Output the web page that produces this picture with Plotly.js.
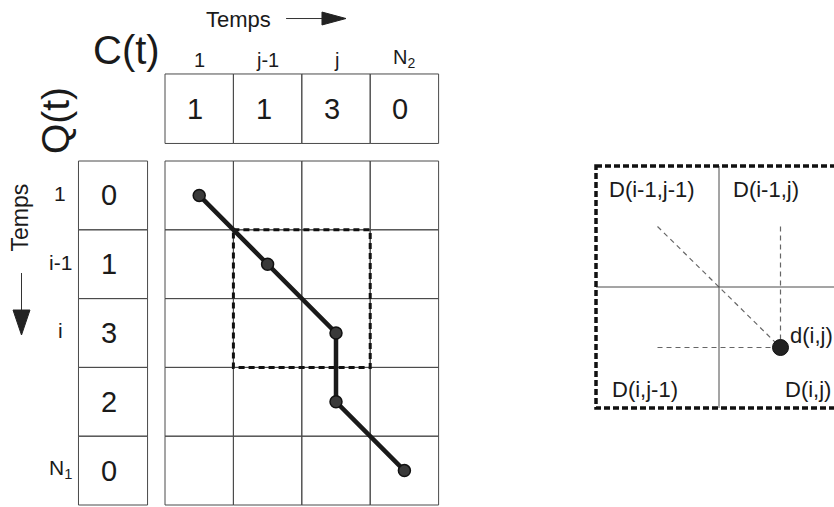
<!DOCTYPE html>
<html><head><meta charset="utf-8">
<script src="https://cdn.plot.ly/plotly-3.0.1.min.js"></script>
<style>html,body{margin:0;padding:0;background:#fff}#chart{width:834px;height:507px}</style>
</head><body><div id="chart"></div>
<script>
// ---- data ----
const colLabels = ['1', 'j-1', 'j', 'N<sub>2</sub>'];
const cValues = [1, 1, 3, 0];
const rowLabels = ['1', 'i-1', 'i', '', 'N<sub>1</sub>'];
const qValues = [0, 1, 3, 2, 0];
const pathCols = [0, 1, 2, 2, 3];
const pathRows = [0, 1, 2, 3, 4];
const windowCols = [1, 3];
const windowRows = [1, 3];
const zoomLabels = ['D(i-1,j-1)', 'D(i-1,j)', 'D(i,j-1)', 'D(i,j)'];
const zoomLabelCols = [1, 2, 1, 2];
const zoomLabelRows = [1, 1, 2, 2];
const neighbourCols = [1, 2, 1];
const neighbourRows = [1, 1, 2];
const targetCol = [2];
const targetRow = [2];
const localCostLabel = 'd(i,j)';
const titleC = 'C(t)';
const titleQ = 'Q(t)';
const timeLabel = 'Temps';

// ---- geometry (layout only) ----
const W = 834, H = 507;
const sxM = 68.4, x0M = 165, syM = 68.8, y0M = 161;   // main grid: px per cell, origin px
const mainDomEnd = 0.69;
const sxZ = 123, syZ = 121, x0Z = 596, y0Z = 166;      // zoom panel: cell(1,1) corner px
const FONT = 'Liberation Sans, Arial, Helvetica, sans-serif';
const INK = '#1a1a1a';
const GRID = '#4a4a4a';

const nCols = cValues.length, nRows = qValues.length;
const sideA = -1.265, sideB = -0.255;

const shapes = [];
const annotations = [];

function ann(o) {
  annotations.push(Object.assign({xref: 'x', yref: 'y', showarrow: false,
    xanchor: 'center', yanchor: 'middle', font: {family: FONT, size: 20, color: INK}}, o));
}

// main grid cells
for (let r = 0; r < nRows; r++) {
  for (let c = 0; c < nCols; c++) {
    shapes.push({type: 'rect', xref: 'x', yref: 'y', layer: 'below',
      x0: c, x1: c + 1, y0: r, y1: r + 1, line: {color: GRID, width: 1}});
  }
}
// C(t) row
cValues.forEach((v, c) => {
  shapes.push({type: 'rect', xref: 'x', yref: 'y', layer: 'below',
    x0: c, x1: c + 1, y0: sideA, y1: sideB, line: {color: GRID, width: 1}});
  ann({x: c + 0.5, y: (sideA + sideB) / 2, text: String(v), xshift: -4,
       font: {family: FONT, size: 29, color: INK}});
  ann({x: c + 0.5, y: sideA - 0.01, yanchor: 'bottom', text: colLabels[c],
       font: {family: FONT, size: 20, color: INK}});
});
// Q(t) column
qValues.forEach((v, r) => {
  shapes.push({type: 'rect', xref: 'x', yref: 'y', layer: 'below',
    x0: sideA, x1: sideB, y0: r, y1: r + 1, line: {color: GRID, width: 1}});
  ann({x: (sideA + sideB) / 2, y: r + 0.5, text: String(v), xshift: -4,
       font: {family: FONT, size: 29, color: INK}});
  if (rowLabels[r]) {
    ann({x: -1.535, y: r + 0.47, text: rowLabels[r], font: {family: FONT, size: 21, color: INK}});
  }
});
// dashed window in main grid
shapes.push({type: 'rect', xref: 'x', yref: 'y', layer: 'below',
  x0: windowCols[0], x1: windowCols[1], y0: windowRows[0], y1: windowRows[1],
  line: {color: '#111', width: 3, dash: '6px,4px'}});

// titles
ann({x: -0.563, y: -1.613, text: titleC, font: {family: FONT, size: 40, color: INK}});
ann({x: -1.608, y: -0.581, text: titleQ, textangle: -90, font: {family: FONT, size: 39, color: INK}});
ann({x: 1.075, y: -2.057, text: timeLabel, font: {family: FONT, size: 22, color: INK}});
ann({x: -2.113, y: 0.814, text: timeLabel, textangle: -90, font: {family: FONT, size: 23, color: INK}});

// time arrows
shapes.push({type: 'line', xref: 'x', yref: 'y', x0: 1.77, x1: 2.31, y0: -2.071, y1: -2.071,
  line: {color: '#333', width: 1}});
shapes.push({type: 'path', xref: 'x', yref: 'y', path: 'M 2.295,-2.165 L 2.646,-2.071 L 2.295,-1.977 Z',
  fillcolor: '#222', line: {color: '#222', width: 1}});
shapes.push({type: 'line', xref: 'x', yref: 'y', x0: -2.098, x1: -2.098, y0: 1.628, y1: 2.18,
  line: {color: '#333', width: 1}});
shapes.push({type: 'path', xref: 'x', yref: 'y', path: 'M -2.222,2.166 L -1.974,2.166 L -2.098,2.529 Z',
  fillcolor: '#222', line: {color: '#222', width: 1}});

// ---- zoom panel ----
shapes.push({type: 'line', xref: 'x2', yref: 'y2', x0: 2, x1: 2, y0: 1, y1: 3,
  line: {color: GRID, width: 1}});
shapes.push({type: 'line', xref: 'x2', yref: 'y2', x0: 1, x1: 3, y0: 2, y1: 2,
  line: {color: GRID, width: 1}});
shapes.push({type: 'rect', xref: 'x2', yref: 'y2', x0: 1, x1: 3, y0: 1, y1: 3,
  line: {color: '#111', width: 3.5, dash: '6px,3px'}});

const zoomOffX = [0.087, 0.095, 0.114, 0.523];
const zoomOffY = [0.198, 0.198, 0.85, 0.85];
zoomLabels.forEach((t, k) => {
  annotations.push({xref: 'x2', yref: 'y2', x: zoomLabelCols[k] + zoomOffX[k], y: zoomLabelRows[k] + zoomOffY[k],
    text: t, showarrow: false, xanchor: 'left', yanchor: 'middle', font: {family: FONT, size: 22, color: INK}});
});
annotations.push({xref: 'x2', yref: 'y2', x: targetCol[0] + 0.563, y: targetRow[0] + 0.397,
  text: localCostLabel, showarrow: false, xanchor: 'left', yanchor: 'middle', font: {family: FONT, size: 22, color: INK}});

// ---- traces ----
const traces = [];
traces.push({type: 'scatter', mode: 'lines+markers', xaxis: 'x', yaxis: 'y',
  x: pathCols.map(c => c + 0.5), y: pathRows.map(r => r + 0.5),
  line: {color: INK, width: 4.5}, marker: {size: 12, color: '#3a3a3a', line: {color: '#111', width: 1.5}},
  hoverinfo: 'skip'});
neighbourCols.forEach((c, k) => {
  traces.push({type: 'scatter', mode: 'lines', xaxis: 'x2', yaxis: 'y2',
    x: [c + 0.5, targetCol[0] + 0.5], y: [neighbourRows[k] + 0.5, targetRow[0] + 0.5],
    line: {color: '#666', width: 1.2, dash: '5px,4px'}, hoverinfo: 'skip'});
});
traces.push({type: 'scatter', mode: 'markers', xaxis: 'x2', yaxis: 'y2',
  x: targetCol.map(c => c + 0.5), y: targetRow.map(r => r + 0.5),
  marker: {size: 16, color: '#222', line: {color: '#111', width: 1}}, hoverinfo: 'skip'});

const hidden = {visible: false, showgrid: false, zeroline: false, fixedrange: true};
const layout = {
  width: W, height: H,
  margin: {l: 0, r: 0, t: 0, b: 0, pad: 0},
  paper_bgcolor: '#fff', plot_bgcolor: 'rgba(0,0,0,0)',
  showlegend: false, hovermode: false,
  xaxis: Object.assign({}, hidden, {domain: [0, mainDomEnd],
    range: [-x0M / sxM, (mainDomEnd * W - x0M) / sxM]}),
  yaxis: Object.assign({}, hidden, {domain: [0, 1],
    range: [(H - y0M) / syM, -y0M / syM]}),
  xaxis2: Object.assign({}, hidden, {anchor: 'y2', domain: [(x0Z - 10) / W, 1],
    range: [1 - 10 / sxZ, 1 + (W - x0Z) / sxZ]}),
  yaxis2: Object.assign({}, hidden, {anchor: 'x2', domain: [1 - (y0Z + 2 * syZ + 10) / H, 1 - (y0Z - 10) / H],
    range: [3 + 10 / syZ, 1 - 10 / syZ]}),
  shapes: shapes,
  annotations: annotations
};
Plotly.newPlot('chart', traces, layout, {staticPlot: true, displayModeBar: false});
</script>
</body></html>
